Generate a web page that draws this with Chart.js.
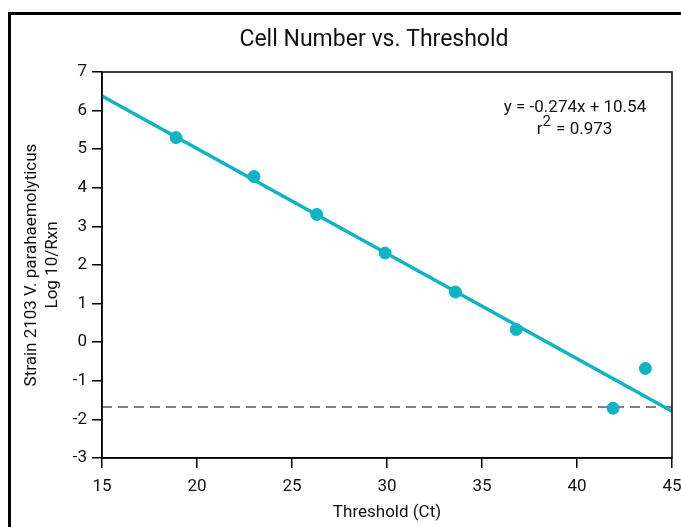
<!DOCTYPE html>
<html>
<head>
<meta charset="utf-8">
<script src="https://cdn.jsdelivr.net/npm/chart.js@4/dist/chart.umd.min.js"></script>
<style>
  html, body { margin: 0; padding: 0; background: #fff; }
  #wrap { position: relative; width: 681px; height: 527px; }
  #frame { position: absolute; left: 8px; top: 12px; width: 690px; height: 540px;
           border-left: 3px solid #000; border-top: 3px solid #000; box-sizing: border-box; }
  canvas { position: absolute; left: 0; top: 0; }
</style>
</head>
<body>
<div id="wrap">
  <div id="frame"></div>
  <canvas id="chart" width="681" height="527"></canvas>
</div>
<script>
// Valores
const thresholdCt = [18.9, 23.0, 26.3, 29.9, 33.6, 36.8, 41.9, 43.6];
const logCells = [5.30, 4.29, 3.31, 2.31, 1.30, 0.33, -1.71, -0.68];

// Recta de regressão (extremos)
const fitX = [15, 45];
const fitY = [6.38, -1.79];

// Linha tracejada de limite
const limiteX = [15, 45];
const limiteY = [-1.68, -1.68];

const titulo = 'Cell Number vs. Threshold';
const equacao = 'y = -0.274x + 10.54';
const r2Texto = ' = 0.973';

const teal = '#10b3c3';
const fonte = 'Roboto, "Liberation Sans", sans-serif';

const pontos = thresholdCt.map((x, i) => ({ x: x, y: logCells[i] }));
const recta = fitX.map((x, i) => ({ x: x, y: fitY[i] }));
const limite = limiteX.map((x, i) => ({ x: x, y: limiteY[i] }));

// Moldura da área do gráfico, título e texto da equação
const extras = {
    id: 'extras',
    afterDraw(chart) {
        const { ctx, chartArea } = chart;
        ctx.save();
        ctx.strokeStyle = '#000';
        ctx.lineWidth = 1.5;
        ctx.strokeRect(chartArea.left, chartArea.top, chartArea.right - chartArea.left, chartArea.bottom - chartArea.top);

        ctx.fillStyle = '#111';
        ctx.font = '23px ' + fonte;
        ctx.textAlign = 'center';
        ctx.textBaseline = 'middle';
        ctx.fillText(titulo, 374, 40);

        ctx.font = '17px ' + fonte;
        ctx.textBaseline = 'alphabetic';
        ctx.fillText(equacao, 575, 112);

        // r² com expoente
        const wR = ctx.measureText('r').width;
        ctx.font = '15px ' + fonte;
        const w2 = ctx.measureText('2').width;
        ctx.font = '17px ' + fonte;
        const wResto = ctx.measureText(r2Texto).width;
        const total = wR + w2 + wResto;
        let x0 = 574 - total / 2;
        ctx.textAlign = 'left';
        ctx.fillText('r', x0, 134);
        ctx.font = '15px ' + fonte;
        ctx.fillText('2', x0 + wR, 126);
        ctx.font = '17px ' + fonte;
        ctx.fillText(r2Texto, x0 + wR + w2 + 1, 134);
        ctx.restore();
    }
};

new Chart(document.getElementById('chart').getContext('2d'), {
    type: 'scatter',
    data: {
        datasets: [
            {
                label: 'Limite',
                data: limite,
                showLine: true,
                borderColor: '#555',
                borderWidth: 1.5,
                borderDash: [10, 6],
                pointRadius: 0,
                order: 3
            },
            {
                label: 'Regressão',
                data: recta,
                showLine: true,
                borderColor: teal,
                borderWidth: 3.5,
                pointRadius: 0,
                order: 2
            },
            {
                label: 'Amostras',
                data: pontos,
                backgroundColor: teal,
                borderColor: teal,
                pointRadius: 6,
                order: 1
            }
        ]
    },
    options: {
        responsive: false,
        animation: false,
        layout: { padding: { left: 22, right: 9, top: 72, bottom: 4 } },
        plugins: {
            legend: { display: false },
            tooltip: { enabled: false },
            title: { display: false }
        },
        scales: {
            x: {
                type: 'linear',
                min: 15,
                max: 45,
                afterFit: s => { s.height = 65; s.paddingRight = 0; s.paddingLeft = 0; },
                ticks: { stepSize: 5, color: '#111', padding: 9, font: { family: fonte, size: 17 } },
                grid: { drawOnChartArea: false, drawTicks: true, tickLength: 10, color: '#000', lineWidth: 1.5 },
                border: { display: true, color: '#000', width: 1.5 },
                title: { display: true, text: 'Threshold (Ct)', color: '#111', padding: { top: 2, bottom: 0 },
                         font: { family: fonte, size: 17 } }
            },
            y: {
                min: -3,
                max: 7,
                afterFit: s => { s.width = 80; s.paddingTop = 0; s.paddingBottom = 0; },
                ticks: { stepSize: 1, color: '#111', padding: 5, font: { family: fonte, size: 17 } },
                grid: { drawOnChartArea: false, drawTicks: true, tickLength: 10, color: '#000', lineWidth: 1.5 },
                border: { display: true, color: '#000', width: 1.5 },
                title: { display: true, text: ['Strain 2103 V. parahaemolyticus', 'Log 10/Rxn'], color: '#111',
                         padding: { top: 0, bottom: 4 }, font: { family: fonte, size: 17, lineHeight: 1.2 } }
            }
        }
    },
    plugins: [extras]
});
</script>
</body>
</html>
